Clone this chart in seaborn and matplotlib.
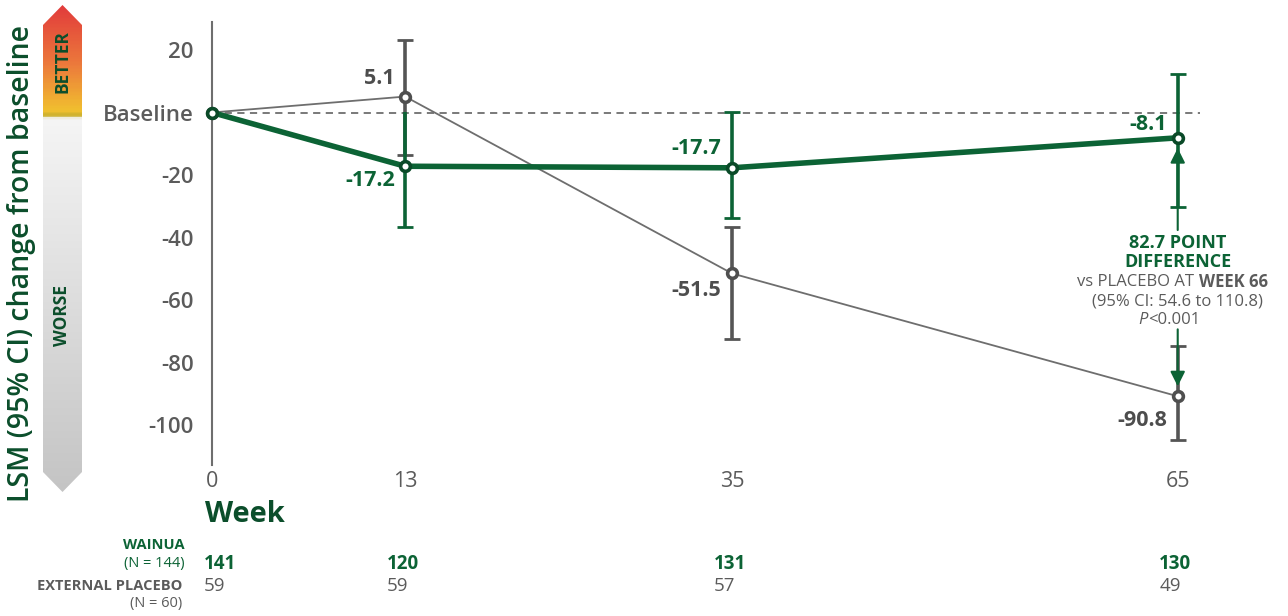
import numpy as np
import matplotlib
matplotlib.use('Agg')
import matplotlib.pyplot as plt
import matplotlib.transforms as mtransforms
from matplotlib.colors import LinearSegmentedColormap
from matplotlib.patches import Polygon
import pandas as pd
import seaborn as sns

# data
weeks = [0, 13, 35, 65]
wainua_lsm = [0, -17.2, -17.7, -8.1]
wainua_ci_low = [0, -36.5, -33.9, -30.1]
wainua_ci_high = [0, 0.3, 0.3, 12.3]
placebo_lsm = [0, 5.1, -51.5, -90.8]
placebo_ci_low = [0, -13.6, -72.6, -104.8]
placebo_ci_high = [0, 23.2, -36.5, -74.7]
wainua_n = ['141', '120', '131', '130']
placebo_n = ['59', '59', '57', '49']
yticks = [20, 0, -20, -40, -60, -80, -100]
ytick_labels = ['20', 'Baseline', '-20', '-40', '-60', '-80', '-100']

GREEN = '#0c6335'
DKGREEN = '#0b4e2b'
GRAY = '#5b5b5b'
LTGRAY = '#6e6e6e'

sns.set_style('white')
plt.rcParams['font.family'] = ['Open Sans', 'DejaVu Sans']

W, H = 1288, 616
fig = plt.figure(figsize=(W / 100, H / 100), dpi=100)

# main axes placed in pixel terms
ax = fig.add_axes([212 / W, 1 - 465 / H, (1252 - 212) / W, (465 - 22) / H])
ax.set_xlim(0, 70)
ax.set_ylim(-112.8, 28.96)

df = pd.DataFrame({'week': weeks * 2,
                   'lsm': wainua_lsm + placebo_lsm,
                   'grp': ['WAINUA'] * 4 + ['PLACEBO'] * 4})

# baseline
ax.axhline(0, xmax=66.5 / 70, color=LTGRAY, lw=1.3, ls=(0, (4, 3)), zorder=1)

# error bars
pl_lo = np.array(placebo_lsm) - np.array(placebo_ci_low)
pl_hi = np.array(placebo_ci_high) - np.array(placebo_lsm)
wa_lo = np.array(wainua_lsm) - np.array(wainua_ci_low)
wa_hi = np.array(wainua_ci_high) - np.array(wainua_lsm)
ax.errorbar(weeks[1:], placebo_lsm[1:], yerr=[pl_lo[1:], pl_hi[1:]], fmt='none',
            ecolor='#555555', elinewidth=2.6, capsize=6, capthick=2, zorder=2)
eb = ax.errorbar(weeks[1:], wainua_lsm[1:], yerr=[wa_lo[1:], wa_hi[1:]], fmt='none',
                 ecolor=GREEN, elinewidth=2.6, capsize=6, capthick=2, zorder=3)
# top cap at week 13 sits under the baseline in the original
eb[1][1].set_markevery([1, 2])

# lines
sns.lineplot(data=df[df.grp == 'PLACEBO'], x='week', y='lsm', color=LTGRAY, lw=1.3,
             marker='o', markersize=7, markerfacecolor='white', markeredgecolor='#4f4f4f',
             markeredgewidth=2.6, ax=ax, zorder=4)
sns.lineplot(data=df[df.grp == 'WAINUA'], x='week', y='lsm', color=GREEN, lw=4,
             marker='o', markersize=7, markerfacecolor='white', markeredgecolor='#0a4a28',
             markeredgewidth=2.6, ax=ax, zorder=5)
for ln in ax.lines:
    ln.set_clip_on(False)
for c in ax.collections:
    c.set_clip_on(False)

# value labels
lab_x = [None, 12.3, 34.3, 64.3]
wa_lab_y = [None, -21.9, -11.4, -3.7]
pl_lab_y = [None, 11.0, -56.8, -98.4]
for i in range(1, 4):
    ax.text(lab_x[i], wa_lab_y[i], f'{wainua_lsm[i]:.1f}', color=GREEN, fontsize=15.5,
            fontweight='bold', ha='right', va='center')
    ax.text(lab_x[i], pl_lab_y[i], f'{placebo_lsm[i]:.1f}', color='#4d4d4d', fontsize=15.5,
            fontweight='bold', ha='right', va='center')

# difference annotation
ax.annotate('', xy=(65, -10.5), xytext=(65, -38.5),
            arrowprops=dict(arrowstyle='-|>', color=GREEN, lw=1.5, mutation_scale=22))
ax.annotate('', xy=(65, -88.5), xytext=(65, -68.5),
            arrowprops=dict(arrowstyle='-|>', color=GREEN, lw=1.5, mutation_scale=22))
ax.text(65, -41.8, '82.7 POINT', color=GREEN, fontsize=13, fontweight='bold',
        ha='center', va='center')
ax.text(65, -47.8, 'DIFFERENCE', color=GREEN, fontsize=13, fontweight='bold',
        ha='center', va='center')
ax.text(66.4, -54.2, 'vs PLACEBO AT ', color=GRAY, fontsize=12, ha='right', va='center',
        clip_on=False)
ax.text(66.4, -54.2, 'WEEK 66', color=GRAY, fontsize=12, fontweight='bold', ha='left',
        va='center', clip_on=False)
ax.text(65, -60.6, '(95% CI: 54.6 to 110.8)', color=GRAY, fontsize=12, ha='center',
        va='center', clip_on=False)
ax.text(63.0, -66.4, 'P', color=GRAY, fontsize=12, style='italic', ha='right', va='center')
ax.text(63.0, -66.4, '<0.001', color=GRAY, fontsize=12, ha='left', va='center')

# axes styling
for s in ['top', 'right', 'bottom']:
    ax.spines[s].set_visible(False)
ax.spines['left'].set_color(LTGRAY)
ax.spines['left'].set_linewidth(1.5)
ax.set_yticks(yticks)
ax.set_yticklabels(ytick_labels)
ax.set_xticks(weeks)
ax.set_xticklabels([str(w) for w in weeks])
ax.tick_params(axis='y', direction='out', length=7, width=1.3, color=LTGRAY,
               labelcolor=GRAY, labelsize=16, pad=6)
ax.tick_params(axis='x', direction='in', length=12, width=1.5, color=LTGRAY,
               labelcolor=GRAY, labelsize=15.5, pad=4)
for t in ax.get_yticklabels():
    t.set_fontweight('semibold')
ax.set_xlabel('')
ax.set_ylabel('')

# week label and n table
tr = mtransforms.blended_transform_factory(ax.transData, fig.transFigure)
fig.text(-0.45, 1 - 515 / H, 'Week', transform=tr, color=DKGREEN, fontsize=21,
         fontweight='bold', ha='left', va='center')
fig.text(185 / W, 1 - 545 / H, 'WAINUA', color=GREEN, fontsize=10.5, fontweight='bold',
         ha='right', va='center')
fig.text(185 / W, 1 - 564 / H, '(N = 144)', color=GREEN, fontsize=10.5, ha='right', va='center')
fig.text(182 / W, 1 - 586 / H, 'EXTERNAL PLACEBO', color=GRAY, fontsize=10.5,
         fontweight='bold', ha='right', va='center')
fig.text(182 / W, 1 - 604 / H, '(N = 60)', color=GRAY, fontsize=10.5, ha='right', va='center')
for i, w in enumerate(weeks):
    xx = w - 0.55 if i == 0 else w - 1.25
    fig.text(xx, 1 - 564 / H, wainua_n[i], transform=tr, color=GREEN, fontsize=13.5,
             fontweight='bold', ha='left', va='center')
    fig.text(xx, 1 - 586 / H, placebo_n[i], transform=tr, color=GRAY, fontsize=13.5,
             ha='left', va='center')

# y axis title
fig.text(22 / W, 1 - 263 / H, 'LSM (95% CI) change from baseline', rotation=90,
         color=DKGREEN, fontsize=20.5, fontweight='semibold', ha='center', va='center')

# better / worse gradient arrow
axa = fig.add_axes([0, 0, 1, 1], facecolor='none')
axa.set_xlim(0, W)
axa.set_ylim(H, 0)
axa.axis('off')
cmap = LinearSegmentedColormap.from_list('bw', [
    (0.0, '#e23c3b'), (0.12, '#ec7a3c'), (0.215, '#f1c02f'), (0.226, '#c8ae2c'),
    (0.232, '#f5f5f5'), (1.0, '#c4c4c4')])
grad = np.linspace(0, 1, 400).reshape(-1, 1)
im = axa.imshow(grad, cmap=cmap, aspect='auto', extent=(43, 82, 492, 5), zorder=1)
arrow = Polygon([(62.5, 5), (82, 25), (82, 472), (62.5, 492), (43, 472), (43, 25)],
                closed=True, transform=axa.transData, facecolor='none', edgecolor='none')
axa.add_patch(arrow)
im.set_clip_path(arrow)
axa.text(62.5, 62, 'BETTER', rotation=90, color=DKGREEN, fontsize=12.5, fontweight='bold',
         ha='center', va='center')
axa.text(62.5, 315, 'WORSE', rotation=90, color=DKGREEN, fontsize=12.5, fontweight='bold',
         ha='center', va='center')

fig.savefig('out.png', dpi=100, facecolor='white')
